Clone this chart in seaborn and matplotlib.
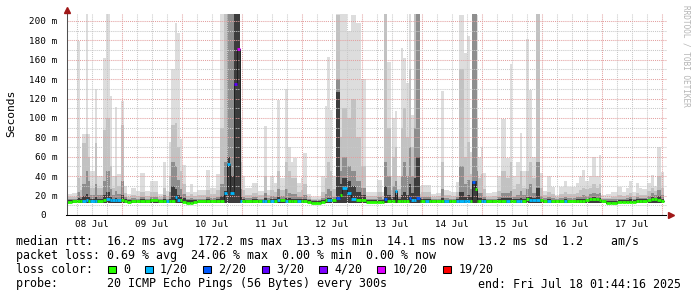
import matplotlib
matplotlib.use("Agg")
import matplotlib.pyplot as plt
import matplotlib.dates as mdates
from matplotlib.patches import Rectangle
import numpy as np
import pandas as pd
import seaborn as sns

sns.set_style("white")
plt.rcParams['font.family'] = ['DejaVu Sans Mono', 'DejaVu Sans']

# ---------------- data (hours since 2025-07-08 00:00) ----------------
start_time = "2025-07-08 00:00"
seg_start_h = [
    1.8, 4.0, 6.0, 7.2, 8.2, 9.6, 10.4, 11.4, 13.2, 14.2,
    16.4, 17.6, 19.2, 20.2, 21.2, 22.2, 23.6, 25.0, 26.0, 27.6,
    29.6, 31.2, 33.2, 35.2, 38.4, 40.4, 41.6, 42.8, 43.6, 45.2,
    46.0, 47.2, 48.0, 49.6, 51.2, 52.4, 54.0, 57.6, 59.2, 61.6,
    63.2, 64.8, 66.0, 67.2, 69.0, 70.0, 71.2, 72.0, 73.2, 76.0,
    78.4, 80.0, 81.0, 82.0, 83.2, 84.8, 86.0, 87.2, 89.4, 90.4,
    91.6, 92.4, 94.0, 95.6, 96.4, 98.0, 99.6, 103.6, 105.2, 106.0,
    107.2, 108.0, 109.6, 111.2, 112.0, 114.0, 115.6, 117.6, 119.6, 121.6,
    126.0, 128.0, 129.0, 130.0, 131.6, 132.0, 133.2, 134.1, 135.6, 136.4,
    137.6, 138.8, 139.7, 140.8, 141.7, 143.2, 143.6, 145.2, 146.8, 147.6,
    149.6, 151.7, 152.8, 154.8, 155.6, 157.6, 158.8, 160.8, 162.0, 163.2,
    164.0, 165.2, 165.9, 166.4, 167.5, 168.5, 169.6, 172.0, 174.0, 175.6,
    177.5, 179.2, 180.1, 181.7, 183.2, 184.1, 185.5, 186.8, 188.1, 189.5,
    191.2, 192.5, 194.0, 195.5, 197.1, 198.8, 200.8, 202.1, 205.5, 206.8,
    208.1, 209.2, 210.8, 212.1, 213.5, 214.8, 215.7, 217.5, 219.5, 222.1,
    224.1, 225.5, 226.8, 228.1, 229.5, 230.8, 232.1, 233.9, 235.7, 236.8,
    237.9, 239.5,
]
end_h = 241.0

# smoke envelope (ms): max ping, upper pings, middle pings, inner pings
rtt_max = [
    22, 23, 179, 40, 84, 210, 84, 45, 130, 40,
    162, 210, 123, 40, 111, 42, 118, 30, 22, 28,
    25, 43, 25, 35, 22, 55, 25, 75, 151, 198,
    188, 78, 52, 24, 32, 24, 26, 46, 28, 42,
    210, 210, 210, 210, 210, 210, 98, 40, 28, 33,
    25, 25, 92, 26, 40, 33, 119, 38, 130, 70,
    55, 59, 33, 38, 64, 22, 19, 40, 112, 163,
    108, 40, 210, 210, 210, 190, 206, 198, 140, 24,
    36, 24, 210, 158, 40, 100, 107, 40, 172, 162,
    136, 210, 103, 210, 210, 30, 31, 31, 31, 22,
    23, 128, 26, 25, 24, 34, 206, 167, 185, 65,
    210, 210, 206, 60, 70, 43, 23, 24, 40, 99,
    59, 156, 40, 55, 85, 45, 181, 129, 60, 210,
    43, 25, 40, 29, 21, 29, 35, 29, 33, 40,
    46, 35, 40, 60, 40, 62, 21, 22, 24, 29,
    24, 28, 35, 24, 33, 28, 26.5, 33, 41, 30,
    70, 44,
]
rtt_hi = [
    19, 19, 38, 26, 74, 84, 60, 28, 74, 28,
    88, 100, 50, 28, 40, 30, 93, 23, 19, 21,
    20, 24, 20, 24, 19, 28, 20, 40, 93, 95,
    70, 45, 32, 20, 22, 20, 21, 26, 22, 26,
    90, 210, 210, 210, 210, 210, 55, 26, 21, 23,
    21, 21, 40, 21, 26, 24, 45, 26, 55, 45,
    38, 38, 24, 26, 32, 19, 17, 24, 38, 55,
    45, 27, 206, 80, 110, 100, 120, 80, 50, 20,
    24, 20, 210, 90, 26, 60, 70, 27, 90, 110,
    80, 150, 70, 210, 210, 22, 24, 24, 24, 19,
    20, 55, 21, 21, 20, 24, 150, 60, 75, 42,
    210, 210, 100, 38, 42, 27, 19, 20, 25, 45,
    38, 55, 27, 32, 45, 28, 45, 55, 38, 210,
    28, 21, 24, 22, 19, 22, 24, 22, 23, 26,
    28, 27, 28, 32, 28, 32, 18, 18, 19, 21,
    20, 21, 23, 20, 23, 21, 21, 25, 28, 25,
    40, 28,
]
rtt_mid = [
    17, 17, 24, 19, 32, 45, 35, 21, 32, 21,
    35, 45, 27, 21, 25, 22, 35, 18.5, 17, 18,
    17, 19, 17, 19, 17, 21, 17, 24, 55, 50,
    36, 27, 22, 17, 18, 17, 17, 19, 18, 19,
    32, 55, 210, 210, 210, 210, 27, 19, 18, 18.5,
    17, 17, 23, 18, 20, 19, 27, 20, 27, 23,
    22, 22, 19, 19, 21, 16.5, 15.5, 18, 22, 27,
    25, 19, 140, 45, 60, 50, 45, 35, 28, 17,
    18.5, 17, 55, 40, 19, 30, 35, 19, 40, 55,
    40, 70, 40, 90, 210, 18, 19, 19, 19, 17,
    17, 27, 18, 17, 17, 19, 50, 32, 36, 27,
    210, 210, 45, 23, 23, 19, 17, 17, 19, 23,
    23, 25, 19, 21, 25, 21, 27, 32, 23, 55,
    20, 18, 19, 18, 17, 18, 19, 18, 19, 19,
    21, 20, 22, 23, 22, 23, 16.5, 16, 16.5, 17,
    17, 18, 19, 17, 19, 18, 18, 20, 23, 21,
    26, 21,
]
rtt_core = [
    15.5, 15.5, 18, 16, 20, 22, 19, 16.5, 19, 16.5,
    21, 24, 19, 16.5, 18, 17, 21, 16, 15, 15.5,
    15, 16, 15, 16, 15, 16.5, 15, 17, 30, 27,
    21, 19, 17.5, 15, 15, 15, 15, 16, 15.5, 16,
    20, 25, 60, 40, 210, 210, 19, 16, 15.5, 16,
    15.5, 15.5, 17.5, 15.5, 16, 16, 19, 16, 18, 17.5,
    17, 17, 16, 16, 17, 15, 14, 15, 17, 18,
    17.5, 16, 127, 32, 38, 35, 30, 24, 21, 15,
    15.5, 15, 30, 21, 16, 19, 21, 16, 21, 24,
    21, 32, 23, 38, 60, 15.5, 16, 16, 16, 15,
    15, 17.5, 15.5, 15.5, 15, 16, 24, 19, 21, 19,
    35, 35, 24, 17.5, 17.5, 16, 15, 15, 16, 17.5,
    17.5, 17.5, 16, 17, 17.5, 17, 19, 19, 17.5, 28,
    17, 15.5, 16, 15.5, 15, 15.5, 16, 15.5, 16, 16,
    17, 17, 18, 18.5, 18, 18, 15, 14.5, 14.5, 15,
    15, 15.5, 16, 15, 16, 16, 16, 17, 19, 18,
    20, 17,
]
rtt_floor = 12.0

rtt_median = [
    13.8, 14.0, 14.0, 14.2, 14.2, 15.5, 14.0, 14.0, 14.0, 14.0,
    15.5, 16.5, 15.0, 15.0, 15.0, 15.0, 15.0, 14.0, 13.5, 14.0,
    14.0, 14.5, 14.5, 15.0, 14.5, 14.5, 14.0, 14.0, 14.5, 19.0,
    15.5, 15.0, 13.0, 12.8, 12.8, 13.0, 14.0, 14.0, 14.0, 14.0,
    14.5, 22.7, 53.0, 22.7, 135.0, 171.5, 14.4, 14.4, 14.5, 14.5,
    14.5, 14.5, 14.5, 14.5, 14.5, 14.5, 15.0, 15.0, 14.5, 14.5,
    14.5, 14.5, 14.5, 14.5, 14.5, 13.5, 12.8, 13.5, 15.0, 15.5,
    15.0, 15.0, 17.8, 20.6, 27.8, 22.7, 16.5, 15.5, 15.0, 13.7,
    13.7, 13.7, 16.5, 14.5, 14.5, 14.5, 24.7, 14.5, 14.5, 14.5,
    14.5, 17.8, 15.0, 15.0, 17.8, 14.0, 14.0, 14.0, 14.0, 14.0,
    14.0, 14.5, 14.5, 14.5, 14.5, 14.5, 14.5, 14.5, 14.5, 14.5,
    34.4, 26.8, 14.5, 14.0, 14.0, 14.0, 14.0, 14.0, 14.0, 14.5,
    14.5, 14.5, 14.5, 14.5, 14.5, 14.5, 16.5, 15.5, 15.5, 15.5,
    15.5, 14.5, 14.5, 14.0, 14.0, 14.0, 14.0, 14.0, 14.0, 14.0,
    14.5, 15.0, 16.0, 16.5, 16.0, 15.5, 14.0, 12.8, 12.8, 13.3,
    13.8, 13.8, 13.8, 13.8, 14.0, 14.0, 14.5, 15.0, 16.0, 16.0,
    15.5, 14.5,
]
loss_pings = [
    0, 0, 0, 0, 1, 1, 0, 1, 1, 0,
    0, 1, 1, 1, 1, 1, 0, 0, 0, 0,
    0, 0, 0, 0, 0, 0, 1, 0, 0, 1,
    1, 0, 0, 0, 0, 0, 0, 0, 0, 0,
    0, 1, 1, 1, 3, 10, 1, 0, 0, 0,
    0, 1, 1, 0, 1, 0, 1, 0, 1, 0,
    0, 0, 1, 0, 0, 0, 0, 0, 0, 1,
    1, 0, 2, 0, 1, 1, 1, 0, 0, 0,
    0, 0, 2, 0, 0, 0, 1, 0, 0, 0,
    0, 2, 1, 1, 2, 0, 0, 1, 0, 0,
    0, 0, 1, 0, 0, 1, 1, 1, 1, 0,
    2, 0, 0, 0, 1, 1, 0, 0, 0, 0,
    1, 0, 0, 1, 1, 0, 0, 1, 1, 1,
    0, 0, 1, 0, 0, 0, 1, 0, 0, 0,
    0, 0, 0, 0, 0, 0, 0, 0, 0, 0,
    0, 0, 0, 0, 0, 0, 0, 0, 0, 0,
    0, 0,
]

day_labels = ["08 Jul", "09 Jul", "10 Jul", "11 Jul", "12 Jul",
              "13 Jul", "14 Jul", "15 Jul", "16 Jul", "17 Jul"]
y_tick_values = [0, 20, 40, 60, 80, 100, 120, 140, 160, 180, 200]

loss_levels = [0, 1, 2, 3, 4, 10, 19]
loss_labels = ["0", "1/20", "2/20", "3/20", "4/20", "10/20", "19/20"]
loss_colors = ["#26ff00", "#00b8ff", "#0059ff", "#5e00ff", "#7e00ff", "#dd00ff", "#ff0000"]

legend_rows = [
    "median rtt:  16.2 ms avg  172.2 ms max  13.3 ms min  14.1 ms now  13.2 ms sd  1.2    am/s",
    "packet loss: 0.69 % avg  24.06 % max  0.00 % min  0.00 % now",
    "loss color:",
    "probe:       20 ICMP Echo Pings (56 Bytes) every 300s",
]
end_text = "end: Fri Jul 18 01:44:16 2025"

# ---------------- figure ----------------
W, H = 697, 297
fig = plt.figure(figsize=(W / 100, H / 100), dpi=100)
fig.patch.set_facecolor("white")
ax = fig.add_axes([66.5 / W, 82 / H, 600 / W, 201 / H])
ax.set_facecolor("white")

t0 = pd.Timestamp(start_time)
edges = t0 + pd.to_timedelta(np.array(seg_start_h + [end_h]), unit="h")
xe = mdates.date2num(edges.to_pydatetime())


def ext(a):
    return np.array(list(a) + [a[-1]], dtype=float)


smoke = [(rtt_max, "#dddddd"), (rtt_hi, "#c2c2c2"), (rtt_mid, "#8e8e8e"), (rtt_core, "#3c3c3c")]
for vals, col in smoke:
    ax.fill_between(xe, rtt_floor, ext(vals), step="post", color=col, lw=0, zorder=1)

ymax = 207.2
xmin = mdates.date2num(t0 + pd.Timedelta(hours=1.8))
xmax = mdates.date2num(t0 + pd.Timedelta(hours=241.8))
ax.set_xlim(xmin, xmax)
ax.set_ylim(0, ymax)

# grid (drawn over smoke like rrdtool)
dot = (0, (1, 1))
for h in range(6, 242, 6):
    xv = mdates.date2num(t0 + pd.Timedelta(hours=h))
    if h % 24 == 0:
        ax.axvline(xv, color="#e3a0a0", lw=0.75, ls=dot, zorder=2)
    else:
        ax.axvline(xv, color="#c8c8c8", lw=0.75, ls=dot, zorder=2)
for v in range(10, 207, 10):
    if v % 20 == 0:
        ax.axhline(v, color="#e3a0a0", lw=0.75, ls=dot, zorder=2)
    else:
        ax.axhline(v, color="#c8c8c8", lw=0.75, ls=dot, zorder=2)

# median: thin dark step line + loss-colored thick segments
med_df = pd.DataFrame({"t": xe, "median": ext(rtt_median)})
sns.lineplot(data=med_df, x="t", y="median", drawstyle="steps-post", color="#202020",
             lw=0.7, ax=ax, estimator=None, sort=False, zorder=3)


def loss_color(n):
    c = loss_colors[0]
    for lvl, col in zip(loss_levels, loss_colors):
        if n >= lvl:
            c = col
    return c


ax.hlines(rtt_median, xe[:-1], xe[1:], colors=[loss_color(n) for n in loss_pings],
          lw=2.0, zorder=4, capstyle="butt")

# axes styling
for s in ["top", "right"]:
    ax.spines[s].set_visible(False)
ax.spines["left"].set_color("#505050")
ax.spines["left"].set_linewidth(0.75)
ax.spines["bottom"].set_color("#000000")
ax.spines["bottom"].set_linewidth(0.75)
ax.spines["left"].set_zorder(5)
ax.spines["bottom"].set_zorder(5)

ax.set_yticks(y_tick_values)
ax.set_yticklabels([f"{v} m" if v else "0  " for v in y_tick_values])
noon = [mdates.date2num(t0 + pd.Timedelta(hours=12 + 24 * i)) for i in range(len(day_labels))]
ax.set_xticks(noon)
ax.set_xticklabels(day_labels)
ax.tick_params(axis="y", length=0, pad=6.5, labelsize=6.7, labelcolor="#000000")
ax.tick_params(axis="x", length=0, pad=3.5, labelsize=6.7, labelcolor="#000000")
ax.set_xlabel("")
ax.set_ylabel("")

# arrows on axes
fig.add_artist(plt.Line2D([67 / W], [1 - 10 / H], marker="^", markersize=4.2,
                          color="#a01818", transform=fig.transFigure))
fig.add_artist(plt.Line2D([671 / W], [1 - 215 / H], marker=">", markersize=4.2,
                          color="#a01818", transform=fig.transFigure))

fig.text(11 / W, 1 - 113 / H, "Seconds", rotation=90, ha="center", va="center",
         fontsize=8.1, color="#000000")
fig.text(686 / W, 1 - 5 / H, "RRDTOOL / TOBI OETIKER", rotation=270, ha="center", va="top",
         fontsize=5.6, color="#b4b4b4")

# legend block
row_y = [241, 255.5, 269.5, 284]
for txt, yy in zip(legend_rows, row_y):
    fig.text(16 / W, 1 - yy / H, txt, ha="left", va="center", fontsize=8.4, color="#000000")
fig.text(681 / W, 1 - row_y[3] / H, end_text, ha="right", va="center", fontsize=8.4, color="#000000")

box_left = [108.3, 145.0, 203.3, 261.7, 319.3, 377.3, 443.3]
bs = 7.5
for bx, lab, col in zip(box_left, loss_labels, loss_colors):
    fig.add_artist(Rectangle((bx / W, 1 - (row_y[2] + bs / 2) / H), bs / W, bs / H,
                             facecolor=col, edgecolor="#000000", lw=0.75,
                             transform=fig.transFigure))
    fig.text((bx + 15) / W, 1 - row_y[2] / H, lab, ha="left", va="center",
             fontsize=8.4, color="#000000")

fig.savefig("out.png", dpi=100, facecolor="white")
